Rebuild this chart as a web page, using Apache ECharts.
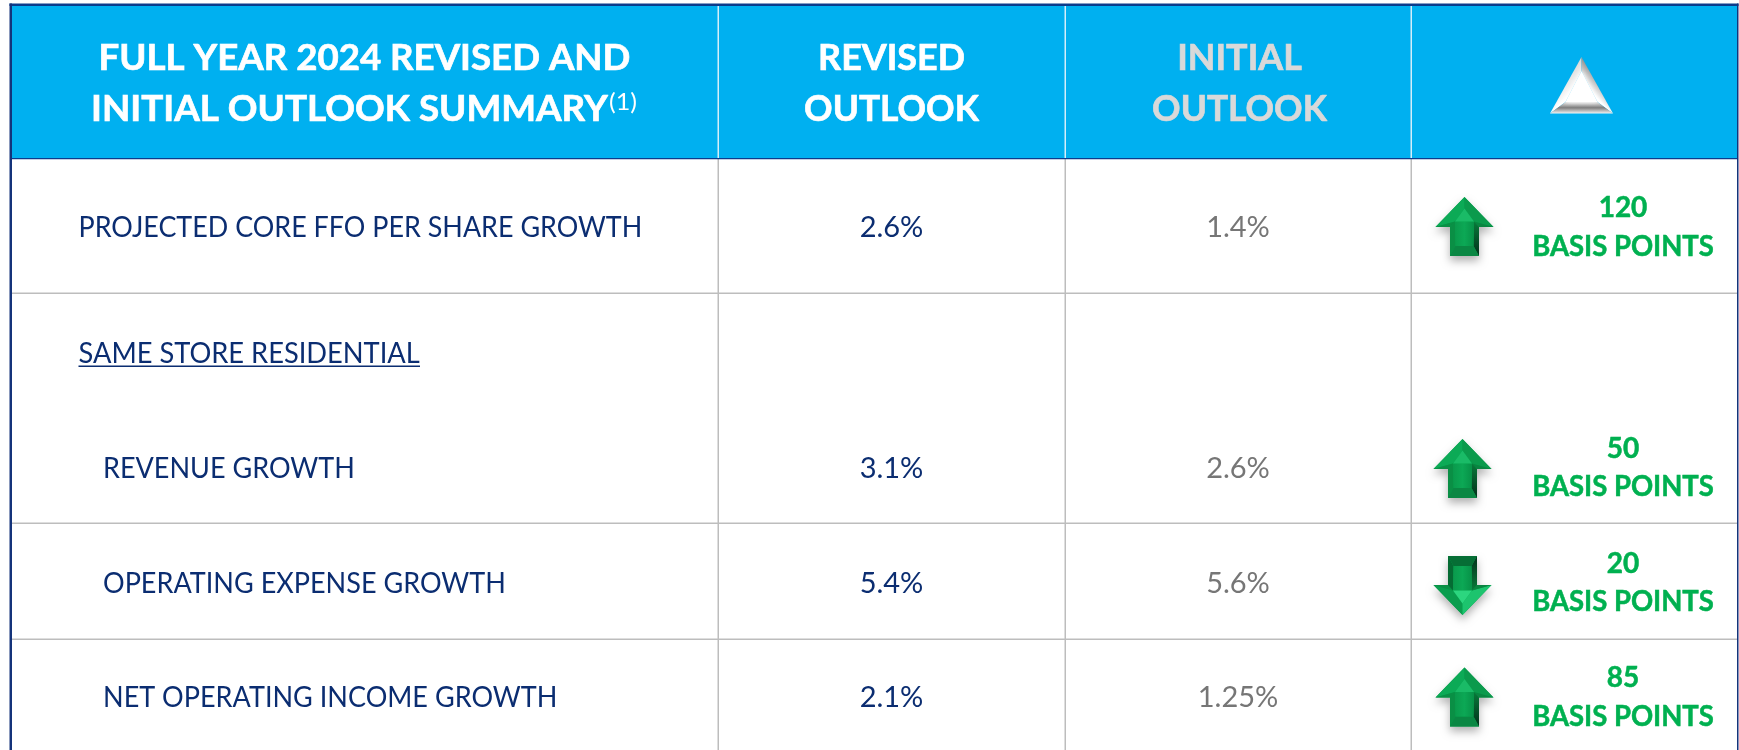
<!DOCTYPE html>
<html>
<head>
<meta charset="utf-8">
<style>
  html, body { margin: 0; padding: 0; background: #fff; }
  #chart { width: 1739px; height: 750px; }
</style>
</head>
<body>
<div id="chart"></div>
<script src="https://cdn.jsdelivr.net/npm/echarts@6/dist/echarts.min.js"></script>
<script>
// table content
const headerTitle = ['FULL YEAR 2024 REVISED AND', 'INITIAL OUTLOOK SUMMARY']
const headerNote = '(1)'
const headerRevised = ['REVISED', 'OUTLOOK']
const headerInitial = ['INITIAL', 'OUTLOOK']
const categories = [
  'PROJECTED CORE FFO PER SHARE GROWTH',
  'REVENUE GROWTH',
  'OPERATING EXPENSE GROWTH',
  'NET OPERATING INCOME GROWTH',
]
const sectionLabel = 'SAME STORE RESIDENTIAL'
const revisedValues = ['2.6%', '3.1%', '5.4%', '2.1%']
const initialValues = ['1.4%', '2.6%', '5.6%', '1.25%']
const changeBasisPoints = [120, 50, -20, 85]
const changeUnit = 'BASIS POINTS'

// layout of the table, in axis units (1 unit = 1px)
const PAGE_W = 1739
const PAGE_H = 750
const colLines = [718, 1065, 1411]
const rowLines = [293, 523, 639]
const tableLeft = 11
const tableRight = 1737.5
const tableTop = 5
const headerBottom = 158.5
const rowCenters = [226.5, 467, 582, 696.5]
const textCenters = [228, 468.5, 583.5, 698]
const rowIndent = [78.5, 103, 103, 103]
const labelScale = [0.928, 0.932, 0.932, 0.932]
const sectionY = 353.5
const arrowCenterX = [1464.5, 1462.5, 1462.5, 1464.5]
const arrowCenterY = [226.5, 468.5, 585.5, 697]
const headerLineY = [58, 109]
const headerLineScale = [0.97, 0.955]

const FONT = 'Lato, "Open Sans", sans-serif'
const NAVY = '#0B2D71'
const SKY = '#00B0F0'
const GREEN = '#00B050'
const GREY = '#767676'
const RULE = '#BDBDBD'

function rectBetween(api, x0, y0, x1, y1, fill) {
  const a = api.coord([x0, y0])
  const b = api.coord([x1, y1])
  return { type: 'rect', shape: { x: a[0], y: a[1], width: b[0] - a[0], height: b[1] - a[1] }, style: { fill: fill } }
}

function textAt(api, str, x, y, opts) {
  const p = api.coord([x, y])
  const style = {
    text: str,
    x: 0,
    y: 0,
    fill: opts.fill,
    font: (opts.weight || 'normal') + ' ' + opts.size + 'px ' + FONT,
    align: opts.align || 'center',
    verticalAlign: 'middle',
  }
  if (opts.heavy) {
    style.stroke = opts.fill
    style.lineWidth = opts.heavy
  }
  return { type: 'text', x: p[0], y: p[1], scaleX: opts.scaleX || 1, style: style }
}

function renderFrame(params, api) {
  const kids = []
  kids.push(rectBetween(api, tableLeft, tableTop, tableRight, headerBottom, SKY))
  // body rules
  rowLines.forEach(y => kids.push(rectBetween(api, tableLeft, y - 0.5, tableRight, y + 1, RULE)))
  colLines.forEach(x => {
    kids.push(rectBetween(api, x - 0.5, headerBottom, x + 1, PAGE_H, RULE))
    kids.push(rectBetween(api, x - 0.5, tableTop, x + 1, headerBottom, '#D4EEFA'))
  })
  // navy outline
  kids.push(rectBetween(api, tableLeft, headerBottom - 0.6, tableRight, headerBottom + 0.8, '#0B3C8C'))
  kids.push(rectBetween(api, 9.5, 3.5, tableRight + 1, tableTop + 1, '#0B3C8C'))
  kids.push(rectBetween(api, 9.5, 3.5, 12, PAGE_H, '#14337A'))
  kids.push(rectBetween(api, tableRight - 0.5, 3.5, tableRight + 1, PAGE_H, '#14337A'))
  return { type: 'group', children: kids }
}

function renderHeader(params, api) {
  const kids = []
  const big = { fill: '#FFFFFF', weight: 'bold', size: 37, heavy: 0.7 }
  kids.push(textAt(api, headerTitle[0], 364.5, headerLineY[0], Object.assign({}, big, { scaleX: 0.99 })))
  kids.push(textAt(api, headerTitle[1], 91, headerLineY[1], Object.assign({}, big, { align: 'left', scaleX: 0.995 })))
  kids.push(textAt(api, headerNote, 609, 102.5, { fill: '#FFFFFF', size: 24, align: 'left', scaleX: 1.05 }))
  headerRevised.forEach((s, i) => kids.push(textAt(api, s, 891.5, headerLineY[i], Object.assign({}, big, { scaleX: headerLineScale[i] }))))
  headerInitial.forEach((s, i) => kids.push(textAt(api, s, 1239.5, headerLineY[i], Object.assign({}, big, { fill: '#D9D9D9', scaleX: headerLineScale[i] }))))
  return { type: 'group', children: kids }
}

// flat faces of a bevelled block arrow, dir 1 points up, -1 points down
function arrowFaces(api, cx, cy, dir) {
  const c = api.coord([cx, cy])
  const pt = (dx, dy) => [c[0] + dx, c[1] + dir * dy]
  const tip = pt(0, -29.5), wl = pt(-29, 0.5), wr = pt(29, 0.5)
  const nl = pt(-14.5, 0.5), nr = pt(14.5, 0.5)
  const bl = pt(-14.5, 29.5), br = pt(14.5, 29.5)
  const innerTip = pt(0, -18), il = pt(-9.5, -5), ir = pt(9.5, -5)
  const sl = pt(-9, 19.5), sr = pt(9, 19.5)
  const poly = (points, fill) => ({ type: 'polygon', shape: { points: points }, style: { fill: fill } })
  const sideRight = { type: 'linear', x: 0, y: dir > 0 ? 0 : 1, x2: 0, y2: dir > 0 ? 1 : 0, colorStops: [{ offset: 0, color: '#087A3A' }, { offset: 1, color: '#02301A' }] }
  const shaft = { type: 'linear', x: 0, y: 0, x2: 1, y2: 0, colorStops: [{ offset: 0, color: '#0A9A4C' }, { offset: 0.5, color: '#0CA855' }, { offset: 1, color: '#079147' }] }
  const kids = [
    {
      type: 'polygon',
      shape: { points: [tip, wr, nr, br, bl, nl, wl] },
      style: { fill: '#00A04A', shadowBlur: 9, shadowColor: 'rgba(0,0,0,0.3)', shadowOffsetY: 5 },
    },
    poly([tip, wl, il, innerTip], dir > 0 ? '#0CAA56' : '#0A9D4E'),
    poly([tip, wr, ir, innerTip], dir > 0 ? '#0B9A4C' : '#1DC46E'),
    poly([wl, nl, il], '#0A8F45'),
    poly([wr, nr, ir], '#0A8541'),
    poly([nl, bl, sl, il], dir > 0 ? '#0A8F45' : '#056B33'),
    poly([nr, br, sr, ir], sideRight),
    poly([bl, br, sr, sl], dir > 0 ? '#0A8743' : '#066E35'),
    poly([il, ir, sr, sl], shaft),
    poly([innerTip, il, ir], dir > 0 ? '#1ABB67' : '#2CD67F'),
  ]
  return { type: 'group', children: kids }
}

function renderHeaderTriangle(params, api) {
  const c = api.coord([1581.5, 90])
  const pt = (dx, dy) => [c[0] + dx, c[1] + dy]
  const tip = pt(0, -33), l = pt(-31.5, 23.5), r = pt(31.5, 23.5)
  const iTip = pt(0, -19), il = pt(-16, 12), ir = pt(16, 12)
  const poly = (points, fill) => ({ type: 'polygon', shape: { points: points }, style: { fill: fill } })
  const grad = (x, y, x2, y2, stops) => ({ type: 'linear', x: x, y: y, x2: x2, y2: y2, colorStops: stops })
  return {
    type: 'group',
    children: [
      poly([tip, l, il, iTip], grad(0.1, 0.3, 0.7, 0.6, [{ offset: 0, color: '#BEBEBE' }, { offset: 1, color: '#FFFFFF' }])),
      poly([tip, r, ir, iTip], grad(0.9, 0.3, 0.3, 0.6, [{ offset: 0, color: '#4A4A4A' }, { offset: 1, color: '#FFFFFF' }])),
      poly([l, r, ir, il], grad(0, 1, 0, 0, [{ offset: 0, color: '#F5F5F5' }, { offset: 0.15, color: '#D0D0D0' }, { offset: 0.5, color: '#7E7E7E' }, { offset: 1, color: '#E6E6E6' }])),
      { type: 'polygon', shape: { points: [iTip, il, ir] }, style: { fill: '#FFFFFF', shadowBlur: 4, shadowColor: '#FFFFFF' } },
    ],
  }
}

function renderRow(params, api) {
  const i = api.value(0)
  const y = rowCenters[i]
  const ty = textCenters[i]
  const bp = changeBasisPoints[i]
  const kids = [
    textAt(api, categories[i], rowIndent[i], ty, { fill: NAVY, align: 'left', size: 29, scaleX: labelScale[i] }),
    textAt(api, revisedValues[i], 891.5, ty, { fill: NAVY, size: 29 }),
    textAt(api, initialValues[i], 1238, ty, { fill: GREY, size: 29 }),
    arrowFaces(api, arrowCenterX[i], arrowCenterY[i], bp < 0 ? -1 : 1),
    textAt(api, String(Math.abs(bp)), 1623, y - 18.5, { fill: GREEN, weight: 'bold', size: 28, heavy: 0.5 }),
    textAt(api, changeUnit, 1623, y + 20, { fill: GREEN, weight: 'bold', size: 28, scaleX: 0.98, heavy: 0.5 }),
  ]
  return { type: 'group', children: kids }
}

function renderSection(params, api) {
  return {
    type: 'group',
    children: [
      textAt(api, sectionLabel, 78.5, sectionY, { fill: NAVY, size: 29, align: 'left', scaleX: 0.94 }),
      rectBetween(api, 78.5, sectionY + 12, 420, sectionY + 13.5, NAVY),
    ],
  }
}

const myChart = echarts.init(document.getElementById('chart'), null, { renderer: 'canvas' })
const single = [[0]]
const rowIdx = categories.map((c, i) => [i])
myChart.setOption({
  animation: false,
  backgroundColor: '#fff',
  grid: { left: 0, right: 0, top: 0, bottom: 0 },
  xAxis: { type: 'value', min: 0, max: PAGE_W, show: false },
  yAxis: { type: 'value', min: 0, max: PAGE_H, inverse: true, show: false },
  series: [
    { type: 'custom', name: 'frame', coordinateSystem: 'cartesian2d', renderItem: renderFrame, data: single, silent: true },
    { type: 'custom', name: 'header', coordinateSystem: 'cartesian2d', renderItem: renderHeader, data: single, silent: true },
    { type: 'custom', name: 'delta', coordinateSystem: 'cartesian2d', renderItem: renderHeaderTriangle, data: single, silent: true },
    { type: 'custom', name: 'section', coordinateSystem: 'cartesian2d', renderItem: renderSection, data: single, silent: true },
    { type: 'custom', name: 'rows', coordinateSystem: 'cartesian2d', renderItem: renderRow, data: rowIdx, encode: { x: 0 }, silent: true },
  ],
})
</script>
</body>
</html>
